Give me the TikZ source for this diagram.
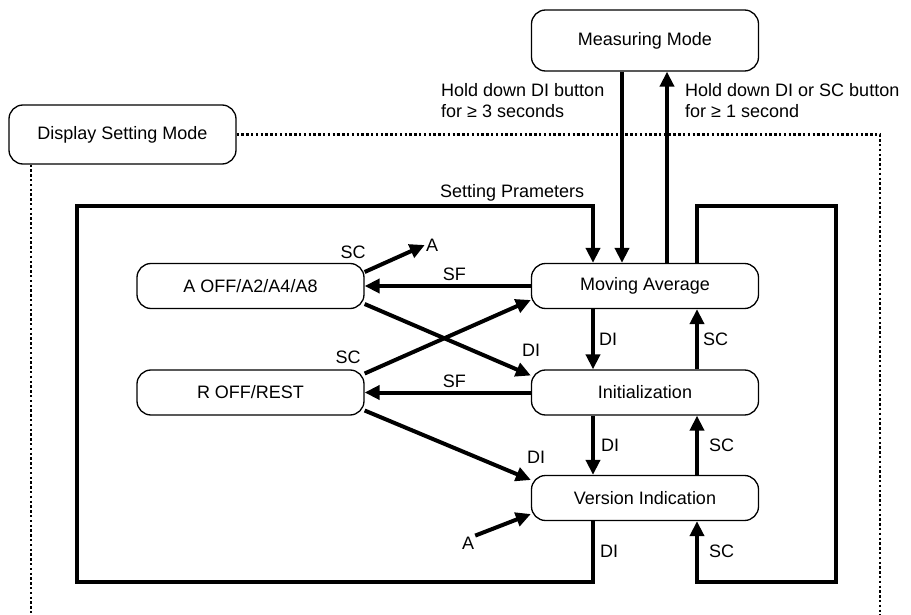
\documentclass[tikz,border=0pt]{standalone}
\usepackage{fontspec}
\setmainfont{Liberation Sans}
\usetikzlibrary{arrows.meta}
\begin{document}
\begin{tikzpicture}[x=1pt, y=-1pt, >={Triangle[length=15pt,width=14pt]}, font=\fontsize{18}{21}\selectfont,
	mode/.style={draw, line width=1.3pt, rounded corners=14pt, minimum width=227pt, minimum height=45pt, inner sep=0pt},
	flow/.style={line width=4pt},
	bound/.style={line width=2.6pt, dash pattern=on 2.4pt off 2.4pt},
	lbl/.style={inner sep=1pt}]
	\useasboundingbox (0,0) rectangle (911,615);
	\def\xl{77}
	\def\xr{836}
	\def\yt{206}
	\def\yb{582}
	\node [mode, minimum height=61pt] (meas) at (645,40.5) {Measuring Mode};
	\node [mode, minimum height=59pt] (disp) at (122.5,134.5) {Display Setting Mode};
	\node [mode] (ma) at (645,286) {Moving Average};
	\node [mode] (init) at (645,392.5) {Initialization};
	\node [mode] (ver) at (645,498) {Version Indication};
	\node [mode] (aoff) at (250.5,286) {A OFF/A2/A4/A8};
	\node [mode] (roff) at (250.5,392.5) {R OFF/REST};
	\coordinate (dl) at (31,615);
	\coordinate (dr) at (880,615);
	\draw [bound] (disp.east) -| (dr);
	\draw [bound] (disp.south -| dl) -- (dl);
	\node [anchor=north west, align=left, inner sep=0pt] (hold3) at (441,83) {Hold down DI button\\for ≥ 3 seconds};
	\node [anchor=north west, align=left, inner sep=0pt] (hold1) at (685,83) {Hold down DI or SC button\\for ≥ 1 second};
	\node [anchor=base west, inner sep=0pt] (setp) at (440,197) {Setting Prameters};
	\draw [flow,->] ([xshift=-23pt]meas.south) -- ([xshift=-23pt]ma.north);
	\draw [flow,->] ([xshift=22pt]ma.north) -- ([xshift=22pt]meas.south);
	\draw [flow,->] ([xshift=-52pt]ver.south) |- node [pos=.25, right, inner sep=5pt] {DI} (\xl,\yb) -- (\xl,\yt) -| ([xshift=-52pt]ma.north);
	\draw [flow,->] ([xshift=52pt]ma.north) |- (\xr,\yt) -- (\xr,\yb) -| node [pos=.75, right, inner sep=10pt] {SC} ([xshift=52pt]ver.south);
	\draw [flow,->] ([xshift=-52pt]ma.south) -- node [right, inner sep=4pt] {DI} ([xshift=-52pt]init.north);
	\draw [flow,->] ([xshift=52pt]init.north) -- node [right, inner sep=4pt] {SC} ([xshift=52pt]ma.south);
	\draw [flow,->] ([xshift=-52pt]init.south) -- node [right, inner sep=6pt] {DI} ([xshift=-52pt]ver.north);
	\draw [flow,->] ([xshift=52pt]ver.north) -- node [right, inner sep=10pt] {SC} ([xshift=52pt]init.south);
	\draw [flow,->] (ma.west) -- node [pos=.46, above, inner sep=3pt] {SF} (aoff.east);
	\draw [flow,->] (init.west) -- node [pos=.46, above, inner sep=3pt] {SF} (roff.east);
	\node [lbl] (ahigh) at (432,245) {A};
	\node [lbl] (alow) at (468,543) {A};
	\draw [flow,->] ([yshift=14pt]aoff.east) -- (ahigh.west);
	\draw [flow,->] ([yshift=-18pt]aoff.east) -- ([yshift=17pt]init.west);
	\draw [flow,->] ([yshift=19pt]roff.east) -- ([yshift=-14pt]ma.west);
	\draw [flow,->] ([yshift=-18pt]roff.east) -- ([yshift=18pt]ver.west);
	\draw [flow,->] (alow.north east) -- ([yshift=-16pt]ver.west);
	\node [lbl] at (353,252) {SC};
	\node [lbl] at (348,357) {SC};
	\node [lbl] at (531,350) {DI};
	\node [lbl] at (536,457) {DI};
\end{tikzpicture}
\end{document}
